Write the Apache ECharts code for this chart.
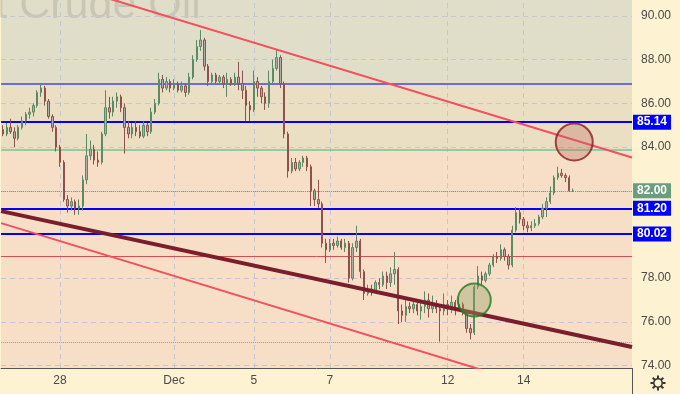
<!DOCTYPE html>
<html><head><meta charset="utf-8">
<script src="https://cdn.jsdelivr.net/npm/echarts@6/dist/echarts.min.js"></script>
<style>html,body{margin:0;padding:0;background:#fdf2d2;}#c{width:680px;height:394px;}</style>
</head><body><div id="c"></div>
<script>
// ---- data ----
const NCAT = 166;
const dayLabels = [[15,'28'],[45,'Dec'],[66,'5'],[86,'7'],[117,'12'],[137,'14']];
const priceTicks = [74,76,78,80,82,84,86,88,90];
// [open, close, low, high]
const candles = [
[84.8,84.6,84.5,85.0],[84.6,84.9,84.5,85.1],[84.9,84.7,84.6,85.3],[84.7,84.4,84.0,84.9],[84.4,84.9,84.3,85.0],
[84.9,85.2,84.8,85.4],[85.2,85.5,85.0,85.6],[85.5,85.6,85.3,85.8],[85.6,85.9,85.4,86.0],[85.9,86.5,85.8,86.6],
[86.5,86.7,86.3,86.9],[86.7,86.1,85.9,86.8],[86.1,85.4,85.3,86.2],[85.4,84.9,84.7,85.5],[84.9,84.0,83.8,85.0],
[84.0,83.3,83.1,84.1],[83.3,81.6,81.5,83.4],[81.6,81.3,81.0,81.8],[81.3,81.5,81.1,81.7],[81.5,81.2,80.9,81.6],
[81.2,81.3,80.9,81.6],[81.3,82.5,81.1,82.7],[82.5,83.6,82.3,84.6],[83.6,83.9,83.4,84.3],[83.9,83.4,83.2,84.1],
[83.4,83.3,83.1,83.8],[83.3,84.6,83.2,84.7],[84.6,85.8,84.5,86.6],[85.8,85.6,85.3,86.3],[85.6,86.1,85.4,86.3],
[86.1,86.3,85.8,86.5],[86.3,85.8,85.6,86.4],[85.8,84.9,83.7,86.0],[84.9,84.6,84.4,85.2],[84.6,84.9,84.4,85.1],
[84.9,84.7,84.5,85.2],[84.7,84.5,84.4,85.0],[84.5,85.0,84.4,85.2],[85.0,84.7,84.5,85.1],[84.7,85.6,84.6,85.8],
[85.6,86.0,85.5,86.2],[86.0,87.1,85.9,87.4],[87.1,86.7,86.5,87.3],[86.7,87.0,86.6,87.2],[87.0,86.7,86.5,87.1],
[86.7,86.9,86.6,87.1],[86.9,86.6,86.5,87.0],[86.6,86.8,86.5,87.0],[86.8,86.5,86.3,86.9],[86.5,87.2,86.4,87.4],
[87.2,88.0,87.1,88.2],[88.0,88.6,87.9,88.9],[88.6,88.9,88.4,89.35],[88.9,87.7,87.5,89.0],[87.7,87.0,86.8,87.8],
[87.0,87.3,86.9,87.4],[87.3,87.0,86.9,87.4],[87.0,87.2,86.9,87.3],[87.2,86.9,86.7,87.3],[86.9,87.1,86.3,87.4],
[87.1,86.9,86.8,87.2],[86.9,87.2,86.8,87.4],[87.2,86.9,86.6,87.9],[86.9,86.6,86.2,87.5],[86.6,85.9,85.2,86.8],
[85.9,85.7,85.2,86.1],[85.7,87.0,85.6,87.5],[87.0,86.7,86.3,87.2],[86.7,86.3,86.0,86.8],[86.3,86.0,85.7,86.5],
[86.0,87.0,85.8,87.5],[87.0,87.6,86.9,88.0],[87.6,88.1,87.5,88.45],[88.1,86.9,86.7,88.2],[86.9,84.6,84.4,87.0],
[84.6,82.9,82.6,84.7],[82.9,83.3,82.8,83.5],[83.3,83.0,82.9,83.5],[83.0,83.3,82.9,83.4],[83.3,83.5,83.1,83.6],
[83.5,83.1,82.9,83.6],[83.1,82.0,81.3,83.2],[82.0,81.6,81.3,82.1],[81.6,81.4,81.2,82.5],[81.4,79.6,79.4,81.5],
[79.6,79.3,78.7,79.8],[79.3,79.6,79.2,79.8],[79.6,79.5,79.3,79.8],[79.5,79.7,79.4,79.9],[79.7,79.4,79.3,79.8],
[79.4,79.6,79.2,79.8],[79.6,78.0,77.8,79.7],[78.0,79.4,77.9,79.6],[79.4,79.7,79.2,80.4],[79.7,78.3,78.0,79.8],
[78.3,77.3,77.0,78.4],[77.3,77.5,77.2,77.7],[77.5,77.4,77.2,77.7],[77.4,77.8,77.3,77.9],[77.8,77.7,77.5,78.0],
[77.7,78.1,77.6,78.3],[78.1,77.8,77.5,78.3],[77.8,78.2,77.6,78.5],[78.2,78.4,77.7,79.2],[78.4,76.5,75.9,78.5],
[76.5,76.3,76.0,76.8],[76.3,76.7,76.0,77.0],[76.7,76.6,76.4,76.9],[76.6,76.8,76.4,77.0],[76.8,76.5,76.3,76.9],
[76.5,76.7,76.1,76.9],[76.7,77.0,76.4,77.4],[77.0,76.6,76.2,77.3],[76.6,76.8,76.4,77.2],[76.8,76.6,76.4,77.0],
[76.6,76.5,75.1,76.8],[76.5,76.8,76.3,77.3],[76.8,76.6,76.3,77.0],[76.6,76.9,76.4,77.2],[76.9,76.6,76.3,77.0],
[76.6,76.8,76.5,77.1],[76.8,76.4,76.3,76.9],[76.4,75.7,75.5,76.5],[75.7,75.5,75.2,75.9],[75.5,77.6,75.4,77.7],
[77.6,78.1,77.5,78.55],[78.1,77.9,77.7,78.3],[77.9,78.2,77.8,78.3],[78.2,78.6,78.1,78.7],[78.6,79.0,78.5,79.1],
[79.0,78.9,78.7,79.2],[78.9,79.3,78.8,79.55],[79.3,79.0,78.8,79.4],[79.0,78.6,78.4,79.1],[78.6,80.2,78.5,80.4],
[80.2,81.0,80.1,81.25],[81.0,80.7,80.5,81.2],[80.7,80.4,80.2,80.8],[80.4,80.3,80.1,80.6],[80.3,80.4,80.15,80.6],
[80.4,80.5,80.3,80.7],[80.5,80.8,80.4,80.9],[80.8,81.2,80.7,81.4],[81.2,81.5,80.8,81.7],[81.5,81.9,81.4,82.2],
[81.9,82.6,81.8,82.7],[82.6,82.8,82.5,83.1],[82.8,82.7,82.6,83.0],[82.7,82.6,82.4,82.8],[82.6,82.0,81.95,82.7],
[82.0,82.0,81.95,82.1]
];
const levelsTagged = [85.14, 81.20, 80.02];
const lastPrice = 82.00;
const purpleLevel = 86.89, greenLevel = 83.90, redLevel = 79.00, lowLevel = 75.08;
const zoneBounds = [73.89, 83.90, 86.89, 90.73];
// trend lines: [barIndex, price]
const upperRed = [[20, 91.21], [165.5, 83.52]];
const lowerRed = [[-0.5, 80.52], [130, 73.59]];
const maroon = [[-0.5, 81.07], [165.5, 74.85]];
const redCircle = [150.3, 84.23];
const greenCircle = [124.0, 77.0];
const title = 'Light Crude Oil';

// ---- build ----
const cats = new Array(NCAT).fill('');
dayLabels.forEach(([i, t]) => cats[i] = t);
const FONT = 'Liberation Sans, Arial, sans-serif';
const chart = echarts.init(document.getElementById('c'), null, {renderer: 'canvas'});
const gridLine = {color: '#c4c6d0', type: [5, 4], width: 1};
const tag = (bg) => ({show: true, position: 'end', distance: 1, formatter: p => p.value.toFixed(2),
  backgroundColor: bg, color: '#fff', fontWeight: 'bold', fontSize: 12, fontFamily: FONT,
  padding: [2, 4, 1, 4], lineHeight: 12});

chart.setOption({
  animation: false,
  backgroundColor: '#fdf2d2',
  grid: {left: 0, right: 48, top: 0, bottom: 26},
  xAxis: [
    {type: 'category', data: cats, boundaryGap: true,
     axisLine: {show: true, lineStyle: {color: '#555', width: 1}}, axisTick: {show: false},
     axisLabel: {interval: 0, color: '#4a4a4a', fontSize: 12, fontFamily: FONT, margin: 7},
     splitLine: {show: false}},
    {type: 'value', min: -0.5, max: NCAT - 0.5, show: false}
  ],
  yAxis: {type: 'value', position: 'right', min: zoneBounds[0], max: zoneBounds[3], splitNumber: 8,
    axisLine: {show: true, lineStyle: {color: '#555', width: 1}}, axisTick: {show: false},
    axisLabel: {color: '#4a4a4a', fontSize: 12, fontFamily: FONT, margin: 9, showMinLabel: false, showMaxLabel: false,
      formatter: v => v.toFixed(2)},
    splitLine: {show: false}},
  graphic: [
    {type: 'text', left: -86, top: -15, z: 3, silent: true,
     style: {text: title, font: '43px ' + FONT, fill: 'rgba(0,0,0,0.10)'}},
    {type: 'line', z: 10, shape: {x1: 632.5, y1: 368, x2: 632.5, y2: 394}, style: {stroke: '#555', lineWidth: 1}},
    {type: 'group', left: 648, top: 373, z: 10, children: [
      {type: 'circle', shape: {cx: 8, cy: 8, r: 4.2}, style: {fill: 'none', stroke: '#333', lineWidth: 1.5}},
      ...[0,1,2,3,4,5,6,7].map(k => {const a = k * Math.PI / 4; return {type: 'line',
        shape: {x1: 8 + 4.5 * Math.cos(a), y1: 8 + 4.5 * Math.sin(a), x2: 8 + 7.5 * Math.cos(a), y2: 8 + 7.5 * Math.sin(a)},
        style: {stroke: '#333', lineWidth: 2}};})
    ]}
  ],
  series: [
    {type: 'line', data: [], z: 1, silent: true,
     markArea: {silent: true, data: [
       [{yAxis: zoneBounds[2], itemStyle: {color: '#e0dec8'}}, {yAxis: zoneBounds[3]}],
       [{yAxis: zoneBounds[1], itemStyle: {color: '#ebdfc3'}}, {yAxis: zoneBounds[2]}],
       [{yAxis: zoneBounds[0], itemStyle: {color: '#f6dfc6'}}, {yAxis: zoneBounds[1]}]
     ]}},
    {type: 'line', data: [], z: 2, silent: true,
     markLine: {silent: true, symbol: 'none', label: {show: false}, lineStyle: gridLine,
       data: priceTicks.map(v => ({yAxis: v})).concat(dayLabels.map(d => ({xAxis: d[0]})))}},
    {type: 'line', data: [], z: 4, silent: true,
     markLine: {silent: true, symbol: 'none', data: [
       {yAxis: purpleLevel, lineStyle: {color: '#6c6cd6', width: 2, type: 'solid'}, label: {show: false}},
       {yAxis: greenLevel, lineStyle: {color: '#6cc79c', width: 1.5, type: 'solid'}, label: {show: false}},
       {yAxis: redLevel, lineStyle: {color: '#d4504c', width: 1, type: 'solid'}, label: {show: false}},
       {yAxis: lowLevel, lineStyle: {color: '#9a9a9a', width: 1, type: 'dotted'}, label: {show: false}},
       {yAxis: lastPrice, lineStyle: {color: '#6a9c88', width: 1, type: 'dotted'}, label: tag('#6a9e7f')},
       ...levelsTagged.map(v => ({yAxis: v, lineStyle: {color: '#0000ff', width: 2, type: 'solid'}, label: tag('#0000ff')}))
     ]}},
    {type: 'candlestick', data: candles, z: 5, barMaxWidth: 3,
     itemStyle: {color: '#b0aea4', color0: '#b0aea4', borderColor: '#5b8a64', borderColor0: '#8e524c', borderWidth: 1}},
    {type: 'line', xAxisIndex: 1, data: upperRed, z: 6, symbol: 'none', clip: true, lineStyle: {color: '#f2505e', width: 2}},
    {type: 'line', xAxisIndex: 1, data: lowerRed, z: 6, symbol: 'none', clip: true, lineStyle: {color: '#f2505e', width: 2}},
    {type: 'line', xAxisIndex: 1, data: maroon, z: 6, symbol: 'none', clip: true, lineStyle: {color: '#7a1e2c', width: 4}},
    {type: 'scatter', xAxisIndex: 1, data: [redCircle], z: 7, symbolSize: 37,
     itemStyle: {color: 'rgba(190,105,95,0.42)', borderColor: '#8b1c1c', borderWidth: 2}},
    {type: 'scatter', xAxisIndex: 1, data: [greenCircle], z: 7, symbolSize: 33,
     itemStyle: {color: 'rgba(150,160,100,0.5)', borderColor: '#1f7a22', borderWidth: 2}}
  ]
});
</script></body></html>
